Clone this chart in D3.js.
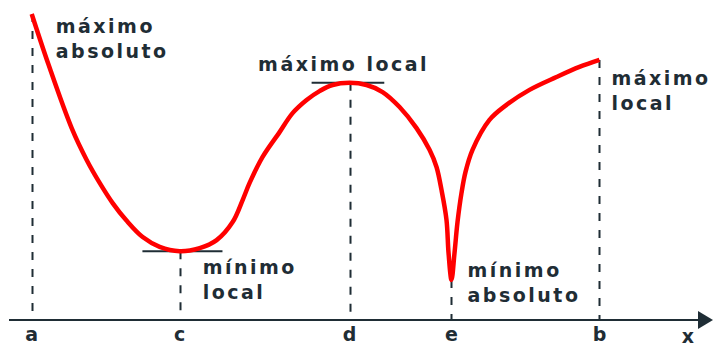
<!DOCTYPE html>
<html>
<head>
<meta charset="utf-8">
<script src="https://cdn.jsdelivr.net/npm/d3@7"></script>
<style>
  html, body { margin: 0; padding: 0; background: #fff; overflow: hidden; }
  svg { display: block; }
  text { font-family: "DejaVu Sans", Verdana, sans-serif; font-weight: bold; fill: #1f2d35; }
</style>
</head>
<body>
<svg id="chart" width="713" height="343"></svg>
<script>
// ---- data ----
const curveX = [0, 2.99, 7.04, 9.68, 11.97, 14.26, 16.73, 19.54, 22.54, 26.06, 29.58, 32.57, 35.39, 37.15, 38.38, 40.67, 43.66, 45.95, 48.42, 50.7, 52.99, 55.99, 58.98, 61.8, 64.79, 67.78, 70.07, 71.3, 72.18, 73.06, 73.42, 73.94, 74.47, 75.0, 75.7, 76.41, 77.64, 80.63, 83.63, 87.68, 92.43, 96.48, 100];
const curveY = [100, 83.3, 62.7, 52.3, 44.8, 38.2, 32.4, 27.1, 23.9, 22.5, 23.5, 26.1, 32.0, 39.2, 44.8, 53.3, 61.4, 67.6, 71.9, 74.8, 76.8, 77.5, 76.8, 74.5, 69.6, 62.7, 55.6, 50.0, 42.5, 32.7, 21.9, 13.1, 21.9, 32.0, 41.5, 48.4, 55.6, 65.4, 70.3, 75.2, 79.4, 82.7, 85.0];

const tickLabels = ["a", "c", "d", "e", "b"];
const tickX = [0, 26.06, 55.99, 73.94, 100];
const tickY = [100, 22.5, 77.5, 13.1, 85.0];

const tangentX0 = [19.5, 49.3];
const tangentX1 = [33.6, 62.1];
const tangentY = [22.5, 77.5];

const noteLines = [["máximo", "absoluto"], ["mínimo", "local"], ["máximo local"], ["mínimo", "absoluto"], ["máximo", "local"]];
const axisName = "x";

// ---- layout ----
const svg = d3.select("#chart");
const x = d3.scaleLinear().domain([-4, 120]).range([9, 713]);
const y = d3.scaleLinear().domain([0, 100]).range([320, 14]);
const ink = "#1f2d35";

// axis line + arrow
const [xMin, xMax] = x.domain();
svg.append("line")
  .attr("x1", x(xMin)).attr("x2", x(xMax) - 8)
  .attr("y1", y(0)).attr("y2", y(0))
  .attr("stroke", ink).attr("stroke-width", 2);
svg.append("path")
  .attr("d", d3.line()([[x(xMax) - 15, y(0) - 9], [x(xMax), y(0)], [x(xMax) - 15, y(0) + 9]]) + "Z")
  .attr("fill", ink);

// dashed drop lines
svg.selectAll(".drop").data(tickX).join("line")
  .attr("class", "drop")
  .attr("x1", d => Math.round(x(d)) + 0.5).attr("x2", d => Math.round(x(d)) + 0.5)
  .attr("y1", (d, i) => y(tickY[i])).attr("y2", y(0))
  .attr("stroke", ink).attr("stroke-width", 2)
  .attr("stroke-dasharray", "8,9");

// tangent lines
svg.selectAll(".tan").data(tangentY).join("line")
  .attr("class", "tan")
  .attr("x1", (d, i) => x(tangentX0[i])).attr("x2", (d, i) => x(tangentX1[i]))
  .attr("y1", d => y(d)).attr("y2", d => y(d))
  .attr("stroke", ink).attr("stroke-width", 2);

// curve
const pts = curveX.map((d, i) => [d, curveY[i]]);
svg.append("path")
  .attr("d", d3.line().x(d => x(d[0])).y(d => y(d[1])).curve(d3.curveCatmullRom.alpha(0.5))(pts))
  .attr("fill", "none").attr("stroke", "#ff0000").attr("stroke-width", 4.5)
  .attr("stroke-linejoin", "round");

// tick labels
svg.selectAll(".tick").data(tickLabels).join("text")
  .attr("class", "tick")
  .attr("x", (d, i) => x(tickX[i])).attr("y", 341)
  .attr("text-anchor", "middle")
  .style("font-size", "19px")
  .text(d => d);
svg.append("text")
  .attr("x", 688).attr("y", 343)
  .attr("text-anchor", "middle")
  .style("font-size", "19px")
  .text(axisName);

// annotation labels (offsets from each extremum)
const noteDx = [24, 23, -6, 16, 12];
const noteDy = [19, 23, -12, -3, 25];
const noteAnchor = ["start", "start", "middle", "start", "start"];
noteLines.forEach((lines, i) => {
  const t = svg.append("text")
    .attr("x", x(tickX[i]) + noteDx[i])
    .attr("y", y(tickY[i]) + noteDy[i])
    .attr("text-anchor", noteAnchor[i])
    .style("font-size", "19px").style("letter-spacing", "2.5px");
  lines.forEach((s, j) => {
    t.append("tspan")
      .attr("x", x(tickX[i]) + noteDx[i])
      .attr("dy", j === 0 ? 0 : 25)
      .text(s);
  });
});
</script>
</body>
</html>
